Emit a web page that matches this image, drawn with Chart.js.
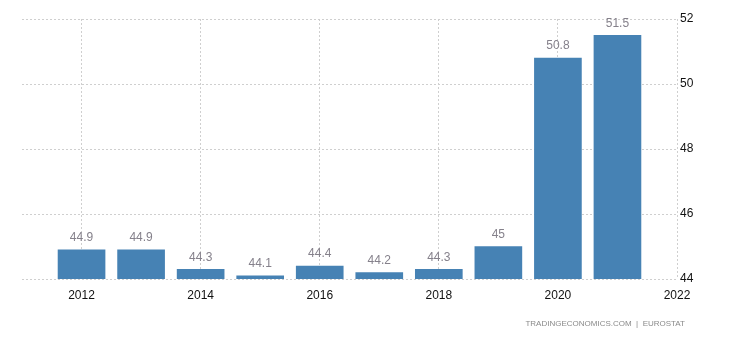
<!DOCTYPE html>
<html>
<head>
<meta charset="utf-8">
<script src="https://cdn.jsdelivr.net/npm/chart.js@4/dist/chart.umd.min.js"></script>
<style>
  html, body { margin: 0; padding: 0; background: #fff; }
  #wrap { position: relative; width: 730px; height: 340px; }
  #source { position: absolute; left: 0; width: 685px; top: 319px; text-align: right;
            font: 8px "Liberation Sans", Arial, sans-serif; color: #8a8a8a; white-space: pre; }
</style>
</head>
<body>
<div id="wrap">
  <canvas id="c" width="730" height="340"></canvas>
  <div id="source">TRADINGECONOMICS.COM  |  EUROSTAT</div>
</div>
<script>
const years = [2012, 2013, 2014, 2015, 2016, 2017, 2018, 2019, 2020, 2021];
const values = [44.9, 44.9, 44.3, 44.1, 44.4, 44.2, 44.3, 45, 50.8, 51.5];
const xTickLabels = [2012, 2014, 2016, 2018, 2020, 2022];
const yTickLabels = [44, 46, 48, 50, 52];

const points = years.map((y, i) => ({ x: y, y: values[i] }));

const valueLabels = {
  id: 'valueLabels',
  afterDatasetsDraw(chart) {
    const ctx = chart.ctx;
    const meta = chart.getDatasetMeta(0);
    ctx.save();
    ctx.font = '12px "Liberation Sans", Arial, sans-serif';
    ctx.fillStyle = '#85818b';
    ctx.textAlign = 'center';
    ctx.textBaseline = 'middle';
    meta.data.forEach((bar, i) => {
      ctx.fillText(String(values[i]), bar.x, bar.y - 12);
    });
    ctx.restore();
  }
};

new Chart(document.getElementById('c'), {
  type: 'bar',
  data: {
    datasets: [{
      data: points,
      backgroundColor: '#4682b4',
      borderWidth: 0,
      barThickness: 47
    }]
  },
  options: {
    responsive: false,
    animation: false,
    events: [],
    layout: { padding: { left: 22, top: 19, right: 0, bottom: 0 } },
    plugins: { legend: { display: false }, tooltip: { enabled: false } },
    scales: {
      x: {
        type: 'linear',
        offset: false,
        min: 2011,
        max: 2022,
        afterBuildTicks(scale) { scale.ticks = xTickLabels.map(v => ({ value: v })); },
        afterFit(scale) { scale.height = 61; },
        grid: { color: '#cfcfcf', lineWidth: 1, drawTicks: false, offset: false },
        border: { display: false, dash: [2, 2] },
        ticks: {
          padding: 9,
          color: '#111',
          font: { family: '"Liberation Sans", Arial, sans-serif', size: 12 },
          maxRotation: 0,
          callback: v => String(v)
        }
      },
      y: {
        position: 'right',
        min: 44,
        max: 52,
        afterBuildTicks(scale) { scale.ticks = yTickLabels.map(v => ({ value: v })); },
        afterFit(scale) { scale.width = 53; },
        grid: { color: '#cfcfcf', lineWidth: 1, drawTicks: false },
        border: { display: false, dash: [2, 2] },
        ticks: {
          padding: 3,
          color: '#111',
          font: { family: '"Liberation Sans", Arial, sans-serif', size: 12 },
          callback: v => String(v)
        }
      }
    }
  },
  plugins: [valueLabels]
});
</script>
</body>
</html>
